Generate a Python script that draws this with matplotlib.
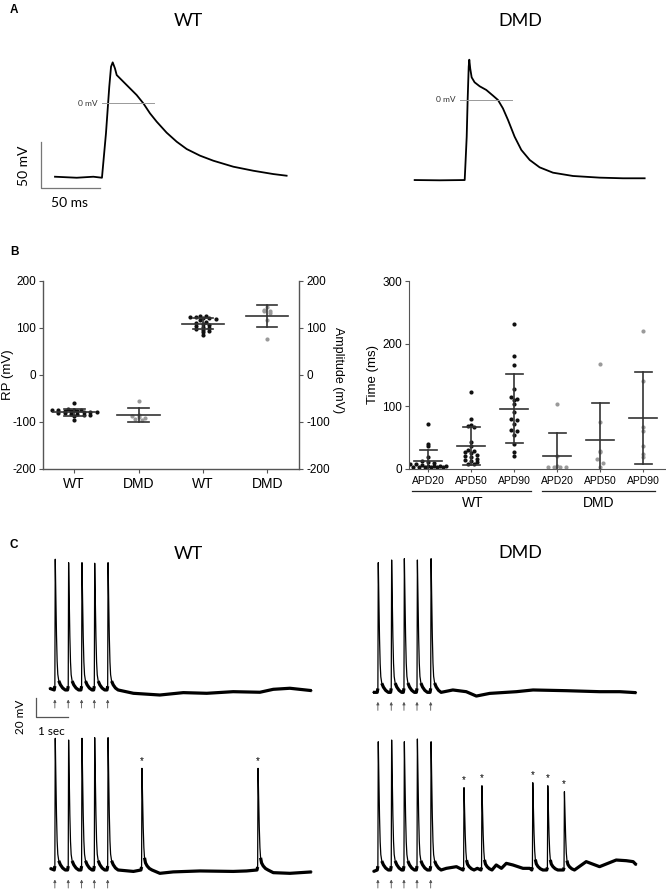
import matplotlib
matplotlib.use('Agg')
import matplotlib.pyplot as plt
import numpy as np

plt.rcParams['axes.unicode_minus'] = False

W, H = 666, 889

# ---------------- panel A: single action potentials (ms, mV)
wt_ap_t = [0, 18.4, 32.5, 39.8, 43.2, 46.0, 47.5, 48.9, 50.8, 52.3, 60.7, 69.2, 74.9, 80.5,
           86.2, 94.6, 103.1, 111.6, 122.9, 134.2, 151.1, 168.1, 185.0, 196.3]
wt_ap_v = [-80.1, -81.2, -80.1, -81.2, -33.0, 17.7, 39.5, 44.2, 37.7, 30.4, 19.6, 8.7, -0.4, -11.2,
           -20.3, -32.2, -42.0, -50.0, -57.2, -62.7, -69.2, -73.6, -77.2, -79.0]
dmd_ap_t = [0, 21.2, 42.4, 43.2, 44.1, 44.9, 45.8, 46.3, 47.1, 48.3, 50.8, 55.1, 60.7, 66.4, 70.6,
            74.8, 79.1, 84.7, 90.4, 97.5, 105.9, 117.2, 134.2, 156.8, 176.5, 194.9]
dmd_ap_v = [-87.0, -87.3, -87.0, -65.2, -39.9, 0.0, 36.2, 43.8, 34.1, 24.6, 19.2, 14.9, 10.9, 4.7, 0.0,
            -9.1, -21.7, -39.9, -54.3, -65.2, -73.2, -79.0, -82.6, -84.4, -85.1, -85.1]

# ---------------- panel B
left_labels = ['WT', 'DMD', 'WT', 'DMD']
rp_wt = [-60, -74, -75, -75, -76, -76, -77, -78, -78, -79, -80, -80, -81, -82, -83, -84, -85, -86, -88, -97]
rp_dmd = [-55, -85, -88, -90, -92, -94, -97]
amp_wt = [125, 124, 123, 122, 121, 120, 118, 116, 112, 110, 108, 106, 104, 102, 100, 98, 96, 94, 90, 84]
amp_dmd = [145, 137, 136, 135, 131, 116, 77]

apd_labels = ['APD20', 'APD50', 'APD90', 'APD20', 'APD50', 'APD90']
apd_groups = ['WT', 'DMD']
apd20_wt = [71, 40, 36, 18, 12, 10, 9, 8, 7, 6, 5, 5, 4, 4, 3, 3, 3, 2, 2, 2]
apd50_wt = [122, 79, 70, 68, 66, 42, 36, 30, 28, 26, 25, 22, 20, 18, 16, 14, 12, 10, 8, 8]
apd90_wt = [231, 180, 165, 128, 115, 112, 110, 104, 91, 80, 78, 72, 62, 60, 54, 40, 26, 20]
apd20_dmd = [103, 20, 4, 3, 3, 3, 2]
apd50_dmd = [167, 75, 29, 27, 15, 9, 3]
apd90_dmd = [220, 140, 67, 61, 36, 23, 18]

# ---------------- panel C: trains (s, mV relative to baseline)
spike_dt = [-0.02, 0.0, 0.012, 0.03, 0.05, 0.07, 0.09, 0.12, 0.17, 0.24, 0.32]
spike_f = [0.0, 0.03, 1.0, 0.72, 0.42, 0.22, 0.12, 0.07, 0.04, 0.015, 0.0]

wt_stim = [0.18, 0.59, 1.00, 1.39, 1.80]
wt_top_amp = [137.6, 134, 134, 133.4, 134]
wt_top_bt = [0.01, 1.97, 2.59, 3.40, 4.12, 4.84, 5.65, 6.47, 6.88, 7.39, 8.06]
wt_top_bv = [1.8, -2.8, -3.5, -5.3, -2.8, -3.5, -1.8, -2.4, 0.7, 1.8, -0.7]
wt_bot_extra = [2.84, 6.40]
wt_bot_amp = [138.6, 136.8, 138.6, 139.3, 139.3]
wt_bot_extra_amp = [107, 107]
wt_bot_bt = [0.03, 1.97, 2.59, 3.40, 3.81, 4.63, 5.65, 6.06, 6.88, 7.39, 8.06]
wt_bot_bv = [1.8, 0, -1.5, -3.5, -2.0, -1.0, -1.5, -1.0, -2.8, -3.5, -2.0]

dmd_stim = [0.15, 0.56, 0.95, 1.35, 1.77]
dmd_top_amp = [136.5, 139.3, 140.7, 139.3, 140.7]
dmd_top_bt = [0, 2.05, 2.45, 2.86, 3.17, 3.58, 4.40, 4.91, 5.93, 6.95, 7.57, 8.08]
dmd_top_bv = [0, 4.2, 2.5, 0.7, -3.9, -1.1, 0.7, 2.5, 1.75, 0.7, 0.7, -0.35]
dmd_bot_extra = [2.78, 3.33, 4.89, 5.35, 5.86]
dmd_bot_amp = [135, 136.8, 135, 137.9, 135]
dmd_bot_extra_amp = [86.7, 88.7, 91.9, 88.7, 82.4]
dmd_bot_bt = [0, 1.94, 2.25, 2.56, 3.20, 3.58, 3.78, 3.94, 4.09, 4.29, 4.60, 4.81,
              6.13, 6.54, 6.95, 7.46, 7.77, 7.98, 8.08]
dmd_bot_bv = [-1.75, 1.75, 1.75, 3.5, 1.75, 0.7, 5.3, 1.75, 7.0, 5.3, 1.75, 1.75,
              7.0, 8.8, 3.5, 10.5, 9.8, 8.8, 5.3]


def box(x0, y0, x1, y1):
    return [x0 / W, 1 - y1 / H, (x1 - x0) / W, (y1 - y0) / H]


def swarm(vals, dv, dx):
    vals = np.asarray(vals, float)
    keys = np.round(vals / dv).astype(int)
    offs = np.zeros(len(vals))
    for k in np.unique(keys):
        idx = np.where(keys == k)[0]
        n = len(idx)
        offs[idx] = (np.arange(n) - (n - 1) / 2) * dx
    return offs


def build_trace(bt, bv, spikes, amps):
    keep = [not any(s - 0.03 <= x <= s + 0.33 for s in spikes) for x in bt]
    t = [x for x, k in zip(bt, keep) if k]
    v = [y for y, k in zip(bv, keep) if k]
    for s, a in zip(spikes, amps):
        for dt, f in zip(spike_dt, spike_f):
            t.append(s + dt)
            v.append(a * f)
    order = np.argsort(t)
    return np.array(t)[order], np.array(v)[order]


fig = plt.figure(figsize=(W / 100, H / 100), dpi=100)
calib = ['Lato', 'DejaVu Sans']
arial = ['Liberation Sans', 'DejaVu Sans']

for lab, y in [('A', 10), ('B', 252), ('C', 545)]:
    fig.text(10 / W, 1 - y / H, lab, fontsize=8.5, fontweight='bold', family=arial, va='center')
for name, x, y in [('WT', 188, 21), ('DMD', 520, 21), ('WT', 188, 554), ('DMD', 520, 553)]:
    fig.text(x / W, 1 - y / H, name, fontsize=13, family=calib, ha='center', va='center')

# ---- A
axa = fig.add_axes(box(20, 40, 320, 215))
axa.set_xlim(-29.66, 224.6)
axa.set_ylim(-121.7, 68.5)
axa.axis('off')
axa.plot(wt_ap_t, wt_ap_v, color='k', lw=1.3)
axa.plot([39.8, 83.9], [0, 0], color='#999999', lw=0.7)
axa.text(36.4, 0, '0 mV', fontsize=6, family=calib, ha='right', va='center', color='#333')
axa.plot([-11.9, -11.9, 38.1], [-42.4, -92.4, -92.4], color='#777', lw=0.9)
axa.text(-26.3, -68.5, '50 mV', fontsize=10, family=calib, rotation=90, ha='center', va='center')
axa.text(11.9, -108.7, '50 ms', fontsize=10, family=calib, ha='center', va='center')

axd = fig.add_axes(box(390, 40, 666, 215))
axd.set_xlim(-20.9, 213.0)
axd.set_ylim(-125, 65.2)
axd.axis('off')
axd.plot(dmd_ap_t, dmd_ap_v, color='k', lw=1.3)
axd.plot([38.1, 82.5], [0, 0], color='#999999', lw=0.7)
axd.text(35, 0, '0 mV', fontsize=6, family=calib, ha='right', va='center', color='#333')

# ---- B left
spc = '#555555'
blk, gry = '#111111', '#9a9a9a'
axb = fig.add_axes(box(42.7, 280.7, 299.3, 468.7))
axb.set_xlim(-0.49, 3.50)
axb.set_ylim(-200, 200)
axb.spines['top'].set_visible(False)
for sp in ['left', 'right', 'bottom']:
    axb.spines[sp].set_color(spc)
    axb.spines[sp].set_linewidth(1)
axb.set_yticks([-200, -100, 0, 100, 200])
axb.set_xticks(range(4))
axb.set_xticklabels(left_labels, fontsize=10, family=arial)
axb.tick_params(axis='y', labelsize=8.5, length=3, color=spc, labelright=True, right=True, pad=2)
axb.tick_params(axis='x', length=3, color=spc, pad=3)
for lb in axb.get_yticklabels() + axb.yaxis.get_ticklabels(which='major'):
    lb.set_family(arial)
fig.text(8 / W, 1 - 375 / H, 'RP (mV)', fontsize=9.5, family=arial, rotation=90,
         ha='center', va='center')
fig.text(338 / W, 1 - 370 / H, 'Amplitude (mV)', fontsize=9, family=arial, rotation=270,
         ha='center', va='center')

for i, (vals, col) in enumerate([(rp_wt, blk), (rp_dmd, gry), (amp_wt, blk), (amp_dmd, gry)]):
    offs = swarm(vals, 6, 0.1)
    axb.scatter(i + offs, vals, s=9, color=col, zorder=2, linewidths=0)
    m, sd = np.mean(vals), np.std(vals, ddof=1)
    axb.plot([i - 0.33, i + 0.33], [m, m], color='#333', lw=1.2, zorder=3)
    axb.plot([i, i], [m - sd, m + sd], color='#333', lw=1.2, zorder=3)
    axb.plot([i - 0.16, i + 0.16], [m + sd, m + sd], color='#333', lw=1.2, zorder=3)
    axb.plot([i - 0.16, i + 0.16], [m - sd, m - sd], color='#333', lw=1.2, zorder=3)

# ---- B right
axr = fig.add_axes(box(409, 281, 665, 468.7))
axr.set_xlim(-0.449, 5.505)
axr.set_ylim(0, 300)
for sp in ['top', 'right']:
    axr.spines[sp].set_visible(False)
for sp in ['left', 'bottom']:
    axr.spines[sp].set_color(spc)
axr.set_yticks([0, 100, 200, 300])
axr.set_xticks(range(6))
axr.set_xticklabels(apd_labels, fontsize=7.5, family=arial)
axr.tick_params(axis='y', labelsize=8.5, length=3, color=spc, pad=2)
axr.tick_params(axis='x', length=2, color=spc, pad=3)
for lb in axr.get_yticklabels():
    lb.set_family(arial)
axr.set_ylabel('Time (ms)', fontsize=9.5, family=arial, labelpad=2)

apd_sets = [(apd20_wt, blk), (apd50_wt, blk), (apd90_wt, blk),
            (apd20_dmd, gry), (apd50_dmd, gry), (apd90_dmd, gry)]
for i, (vals, col) in enumerate(apd_sets):
    offs = swarm(vals, 6, 0.14)
    axr.scatter(i + offs, vals, s=9, color=col, zorder=2, linewidths=0)
    m, sd = np.mean(vals), np.std(vals, ddof=1)
    axr.plot([i - 0.33, i + 0.33], [m, m], color='#333', lw=1.2, zorder=3)
    axr.plot([i, i], [m - sd, m + sd], color='#333', lw=1.2, zorder=3)
    axr.plot([i - 0.2, i + 0.2], [m + sd, m + sd], color='#333', lw=1.2, zorder=3)
    axr.plot([i - 0.2, i + 0.2], [m - sd, m - sd], color='#333', lw=1.2, zorder=3)

tr = axr.get_xaxis_transform()
for (x0, x1, xc), g in zip([(-0.386, 2.40, 1.04), (2.64, 5.27, 3.97)], apd_groups):
    axr.plot([x0, x1], [-0.119, -0.119], color='#222', lw=0.9, transform=tr, clip_on=False)
    axr.text(xc, -0.183, g, fontsize=10, family=arial, ha='center', va='center', transform=tr)


# ---- C
def draw_train(ax, bt, bv, spikes, amps, offset, stim, extra=()):
    t, v = build_trace(bt, bv, spikes, amps)
    ax.plot(t, v + offset, color='k', lw=0.9)
    vv = np.where(v < 15, v, np.nan)
    ax.plot(t, vv + offset, color='k', lw=2.3, solid_capstyle='butt')
    for s in stim:
        ax.annotate('', xy=(s, offset - 10), xytext=(s, offset - 19),
                    arrowprops=dict(arrowstyle='-|>', lw=0.6, color='#555', mutation_scale=4,
                                    shrinkA=0, shrinkB=0))
    for s, a in extra:
        ax.text(s, offset + a + 8, '*', fontsize=7, ha='center', va='center', family=arial)


axc = fig.add_axes(box(10, 545, 325, 889))
axc.set_xlim(-1.196, 8.466)
axc.set_ylim(0, 362.1)
axc.axis('off')
draw_train(axc, wt_top_bt, wt_top_bv, wt_stim, wt_top_amp, 209.5, wt_stim)
draw_train(axc, wt_bot_bt, wt_bot_bv, wt_stim + wt_bot_extra, wt_bot_amp + wt_bot_extra_amp, 20,
           wt_stim, zip(wt_bot_extra, wt_bot_extra_amp))
axc.plot([-0.408, -0.408, 0.592], [201.4, 181.4, 181.4], color='#555', lw=0.9)
axc.text(-0.859, 181, '20 mV', fontsize=8.5, family=calib, rotation=90, ha='center', va='center')
axc.text(0.077, 165.3, '1 sec', fontsize=8.5, family=calib, ha='center', va='center')

axe = fig.add_axes(box(340, 545, 666, 889))
axe.set_xlim(-1.012, 8.988)
axe.set_ylim(0, 362.1)
axe.axis('off')
draw_train(axe, dmd_top_bt, dmd_top_bv, dmd_stim, dmd_top_amp, 207, dmd_stim)
draw_train(axe, dmd_bot_bt, dmd_bot_bv, dmd_stim + dmd_bot_extra, dmd_bot_amp + dmd_bot_extra_amp, 20,
           dmd_stim, zip(dmd_bot_extra, dmd_bot_extra_amp))

fig.savefig('out.png', dpi=100)
